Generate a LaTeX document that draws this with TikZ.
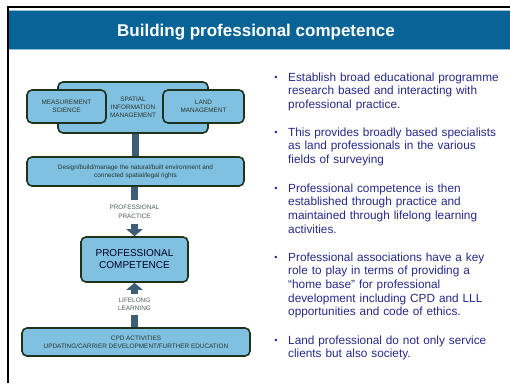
\documentclass[tikz,border=0pt]{standalone}
\usepackage{fontspec}
\setmainfont{Liberation Sans}
\usetikzlibrary{arrows.meta}
\definecolor{titlebar}{RGB}{8,100,150}
\definecolor{titleedge}{RGB}{150,195,220}
\definecolor{boxfill}{RGB}{128,192,224}
\definecolor{boxline}{RGB}{30,50,30}
\definecolor{conn}{RGB}{62,94,120}
\definecolor{bullettext}{RGB}{40,40,140}
\definecolor{diagtext}{RGB}{40,55,45}
\definecolor{lbltext}{RGB}{80,95,85}
\begin{document}
\begin{tikzpicture}[x=1pt,y=-1pt,
  box/.style={draw=boxline, line width=1.6pt, fill=boxfill, rounded corners=5pt, inner sep=0pt, align=center, text=diagtext, font=\fontsize{6.4}{8}\selectfont},
  bar/.style={draw=conn, line width=7pt},
  arr/.style={draw=conn, line width=7pt, -{Triangle[width=16pt,length=7pt]}},
  lbl/.style={text=lbltext, font=\fontsize{6.4}{8.5}\selectfont, align=center, inner sep=1pt},
  para/.style={anchor=base west, text width=220pt, align=left, inner sep=0pt, text=bullettext, font=\fontsize{11.8}{13.7}\selectfont},
  dot/.style={anchor=base, inner sep=0pt, text=bullettext, font=\fontsize{9}{10}\selectfont}
]
\useasboundingbox (0,0) rectangle (510,383);
\fill[white] (0,0) rectangle (510,383);
% title bar
\fill[titlebar] (9,10) rectangle (510,50);
\draw[line width=0.8pt, titleedge] (9,10.6) -- (510,10.6);
\draw[line width=0.6pt, titleedge] (9,49.7) -- (510,49.7);
\draw[line width=2pt] (8,383) -- (8,7) -- (510,7);
\node[text=white, font=\bfseries\fontsize{17}{20}\selectfont] (title) at (256,32) {Building professional competence};

% diagram
\node[box, minimum width=150pt, minimum height=51pt] (spatial) at (133,107.5) {SPATIAL\\INFORMATION\\MANAGEMENT};
\node[box, minimum width=79pt, minimum height=33pt] (meas) at (66.5,106.5) {MEASUREMENT\\SCIENCE};
\node[box, minimum width=81pt, minimum height=33pt] (land) at (203.5,106.5) {LAND\\MANAGEMENT};
\node[box, minimum width=217pt, minimum height=29pt] (design) at (135.5,171.5) {Design/build/manage the natural/built environment and\\connected spatial/legal rights};
\node[box, minimum width=107pt, minimum height=45pt, font=\fontsize{10}{12}\selectfont, text=black!85!blue] (comp) at (134.5,259.5) {PROFESSIONAL\\COMPETENCE};
\node[box, minimum width=228pt, minimum height=28pt] (cpd) at (136,342) {CPD ACTIVITIES\\UPDATING/CARRIER DEVELOPMENT/FURTHER EDUCATION};

\node[lbl] (pp) at (134.5,212) {PROFESSIONAL\\PRACTICE};
\node[lbl] (ll) at (134.5,304.5) {LIFELONG\\LEARNING};

\draw[bar] (design.north |- spatial.south) -- (design.north);
\draw[bar, shorten >=4pt] (design.south -| pp.north) -- (pp.north);
\draw[arr, shorten <=4pt] (pp.south) -- (comp.north);
\draw[bar, shorten >=3pt] (cpd.north -| ll.south) -- (ll.south);
\draw[arr, shorten <=3pt] (ll.north) -- (comp.south);

% bullets
\node[para] (b1) at (288,81) {Establish broad educational programme\\research based and interacting with\\professional practice.};
\node[para] (b2) at (288,136) {This provides broadly based specialists\\as land professionals in the various\\fields of surveying};
\node[para] (b3) at (288,192) {Professional competence is then\\established through practice and\\maintained through lifelong learning\\activities.};
\node[para] (b4) at (288,261) {Professional associations have a key\\role to play in terms of providing a\\“home base” for professional\\development including CPD and LLL\\opportunities and code of ethics.};
\node[para] (b5) at (288,344) {Land professional do not only service\\clients but also society.};
\node[dot] (d1) at (276,80) {•};
\node[dot] (d2) at (276,135) {•};
\node[dot] (d3) at (276,191) {•};
\node[dot] (d4) at (276,260) {•};
\node[dot] (d5) at (276,343) {•};
\end{tikzpicture}
\end{document}
